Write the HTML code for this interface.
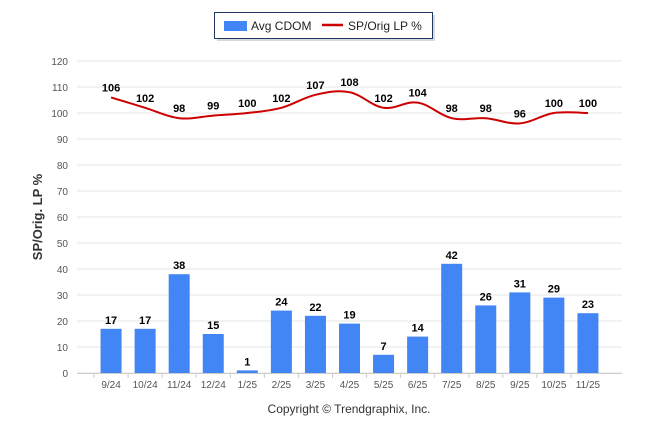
<!DOCTYPE html>
<html><head><meta charset="utf-8"><style>
body{margin:0;background:#fff;}
svg{display:block;font-family:"Liberation Sans",Arial,sans-serif;}
</style></head><body>
<svg id="c" width="646" height="434">
<g>
<rect x="215" y="13" width="218" height="26" fill="#000" opacity="0.15" transform="translate(2,2)"/>
<rect x="214.5" y="12.5" width="218" height="26" fill="#fff" stroke="#1f3864" stroke-width="1"/>
<rect x="224" y="21" width="23" height="10" fill="#4285f4"/>
<text x="251" y="30" font-size="12" fill="#222">Avg CDOM</text>
<line x1="322" y1="25" x2="343" y2="25" stroke="#cc0000" stroke-width="2.5"/>
<text x="348" y="30" font-size="12" fill="#222">SP/Orig LP %</text>
</g>
<text transform="translate(42,217) rotate(-90)" text-anchor="middle" font-size="13" font-weight="bold" fill="#333">SP/Orig. LP %</text>
<text x="349" y="413" text-anchor="middle" font-size="12" fill="#333">Copyright © Trendgraphix, Inc.</text>
<g id="grid"></g><g id="bars"></g><g id="line"></g><g id="labels"></g>
</svg>
<script>
const categories=["9/24","10/24","11/24","12/24","1/25","2/25","3/25","4/25","5/25","6/25","7/25","8/25","9/25","10/25","11/25"];
const cdom=[17,17,38,15,1,24,22,19,7,14,42,26,31,29,23];
const lp=[106,102,98,99,100,102,107,108,102,104,98,98,96,100,100];
const yTicks=[0,10,20,30,40,50,60,70,80,90,100,110,120];
const NS="http://www.w3.org/2000/svg";
const L=77,R=622,Y0=373,Y1=61;
const y=v=>Y0-(v/120)*(Y0-Y1);
const x=i=>L+(R-L)/16*(i+1);
function mk(t,a,p){const e=document.createElementNS(NS,t);for(const k in a)e.setAttribute(k,a[k]);p.appendChild(e);return e;}
const g=document.getElementById('grid');
yTicks.forEach(v=>{
 const l=mk('line',{x1:L,x2:R,y1:y(v),y2:y(v),stroke:'#e6e6e6','stroke-width':1},g);
 
 
 const t=mk('text',{x:68,y:y(v)+4,'text-anchor':'end','font-size':10,fill:'#555'},g);
 t.textContent=v;
 
 
});
const ax=mk('line',{x1:L,x2:R,y1:Y0+0.5,y2:Y0+0.5,stroke:'#ccc'},g);


const b=document.getElementById('bars'),lb=document.getElementById('labels');
categories.forEach((c,i)=>{
 const r=mk('rect',{x:x(i)-10.5,y:y(cdom[i]),width:21,height:Y0-y(cdom[i]),fill:'#4285f4'},b);
 
 
 const t=mk('text',{x:x(i),y:y(cdom[i])-5,'text-anchor':'middle','font-size':11,'font-weight':'bold',fill:'#000'},lb);
 t.textContent=cdom[i];
 
 
 const xl=mk('text',{x:x(i),y:388,'text-anchor':'middle','font-size':10,fill:'#555'},g);
 xl.textContent=c;
 
 
 const tk=mk('line',{x1:x(i)-17,x2:x(i)-17,y1:Y0,y2:Y0+5,stroke:'#ccc'},g);
 
 
 const lt=mk('text',{x:x(i),y:y(lp[i])-6,'text-anchor':'middle','font-size':11,'font-weight':'bold',fill:'#000'},lb);
 lt.textContent=lp[i];
 
 
});
const pts=lp.map((v,i)=>[x(i),y(v)]);
let d='M'+pts[0][0]+','+pts[0][1];
for(let i=0;i<pts.length-1;i++){
 const p0=pts[Math.max(0,i-1)],p1=pts[i],p2=pts[i+1],p3=pts[Math.min(pts.length-1,i+2)];
 const k=0.18;
 d+=' C'+(p1[0]+(p2[0]-p0[0])*k)+','+(p1[1]+(p2[1]-p0[1])*k)+' '+(p2[0]-(p3[0]-p1[0])*k)+','+(p2[1]-(p3[1]-p1[1])*k)+' '+p2[0]+','+p2[1];
}
const path=mk('path',{d:d,fill:'none',stroke:'#cc0000','stroke-width':2},document.getElementById('line'));


</script>
</body></html>
